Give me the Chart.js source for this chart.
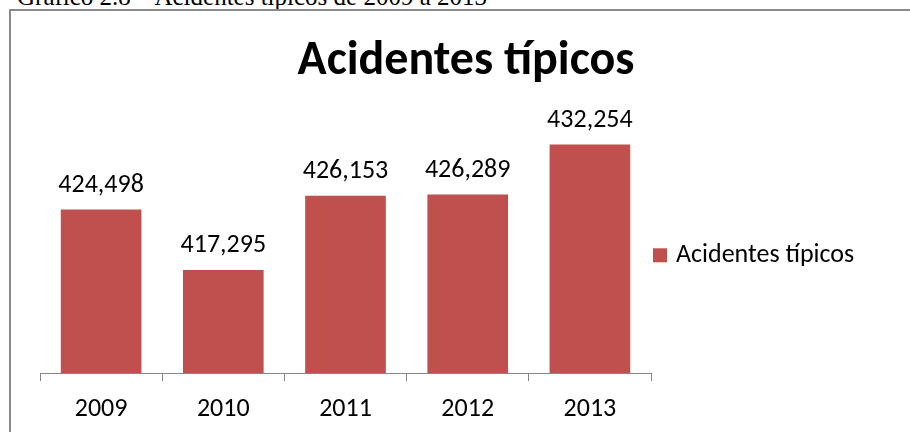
<!DOCTYPE html>
<html>
<head>
<meta charset="utf-8">
<script src="https://cdn.jsdelivr.net/npm/chart.js@4.4.0/dist/chart.umd.min.js"></script>
<style>
  html, body { margin: 0; padding: 0; background: #fff; overflow: hidden; }
  #wrap { position: relative; width: 910px; height: 432px; }
  #caption {
    position: absolute; left: 17px; top: -16px; white-space: nowrap;
    font: 25px/25px "Liberation Serif", "Times New Roman", serif; color: #000;
  }
  #frame {
    position: absolute; left: 9px; top: 9px; width: 920px; height: 440px;
    border-top: 2px solid #8a8a8a; border-left: 2px solid #8a8a8a;
    pointer-events: none;
  }
  canvas { position: absolute; left: 0; top: 0; }
</style>
</head>
<body>
<div id="wrap">
  <div id="caption">Gráfico 2.8 – Acidentes típicos de 2009 a 2013</div>
  <div id="frame"></div>
  <canvas id="myChart" width="910" height="432"></canvas>
</div>
<script>
const years = ['2009', '2010', '2011', '2012', '2013']
const acidentes = [424498, 417295, 426153, 426289, 432254]
const seriesName = 'Acidentes típicos'
const chartTitle = 'Acidentes típicos'

const fontFamily = 'Carlito, Lato, sans-serif'

// value labels above each bar
const barLabels = {
  id: 'barLabels',
  afterDatasetsDraw(chart) {
    const ctx = chart.ctx
    const meta = chart.getDatasetMeta(0)
    ctx.save()
    ctx.font = '26px ' + fontFamily
    ctx.fillStyle = '#000'
    ctx.textAlign = 'center'
    ctx.textBaseline = 'alphabetic'
    meta.data.forEach((bar, i) => {
      const v = chart.data.datasets[0].data[i]
      ctx.fillText(v.toLocaleString('en-US'), bar.x, bar.y - 18)
    })
    ctx.restore()
  }
}

// legend drawn in the reserved space right of the plot
// (the built-in one gets squeezed by the layout's max box width)
const sideLegend = {
  id: 'sideLegend',
  afterDraw(chart) {
    const ctx = chart.ctx
    const area = chart.chartArea
    const items = Chart.defaults.plugins.legend.labels.generateLabels(chart)
    ctx.save()
    ctx.font = '26px ' + fontFamily
    ctx.textBaseline = 'middle'
    ctx.textAlign = 'left'
    let y = (area.top + area.bottom) / 2 + 8
    items.forEach((item) => {
      const x = area.right + 2
      ctx.fillStyle = item.fillStyle
      ctx.fillRect(x, y - 7, 14, 14)
      ctx.fillStyle = '#000'
      ctx.fillText(item.text, x + 23, y)
      y += 32
    })
    ctx.restore()
  }
}

new Chart('myChart', {
  type: 'bar',
  data: {
    labels: years,
    datasets: [{
      label: seriesName,
      data: acidentes,
      backgroundColor: '#C0504D',
      borderWidth: 0,
      categoryPercentage: 1,
      barPercentage: 0.66
    }]
  },
  options: {
    responsive: false,
    animation: false,
    layout: { padding: { left: 22, right: 0, top: 0, bottom: 0 } },
    scales: {
      x: {
        offset: true,
        grid: { display: true, drawOnChartArea: false, tickLength: 8, color: '#868686', lineWidth: 1 },
        border: { display: true, color: '#868686', width: 1 },
        ticks: { color: '#000', padding: 13, font: { family: fontFamily, size: 26 } },
        afterFit: (s) => { s.height = 59 }
      },
      y: {
        min: 405000,
        max: 435000,
        display: true,
        grid: { display: false },
        border: { display: false },
        ticks: { display: false },
        afterFit: (s) => { s.width = 18 }
      },
      spacer: {
        type: 'linear',
        position: 'right',
        display: true,
        grid: { display: false },
        border: { display: false },
        ticks: { display: false },
        afterFit: (s) => { s.width = 259 }
      }
    },
    plugins: {
      title: {
        display: true,
        text: chartTitle,
        color: '#000',
        font: { family: fontFamily, size: 48, weight: 'bold' },
        padding: { top: 33, bottom: 31 }
      },
      legend: { display: false },
      tooltip: { enabled: false }
    }
  },
  plugins: [barLabels, sideLegend]
})
</script>
</body>
</html>
